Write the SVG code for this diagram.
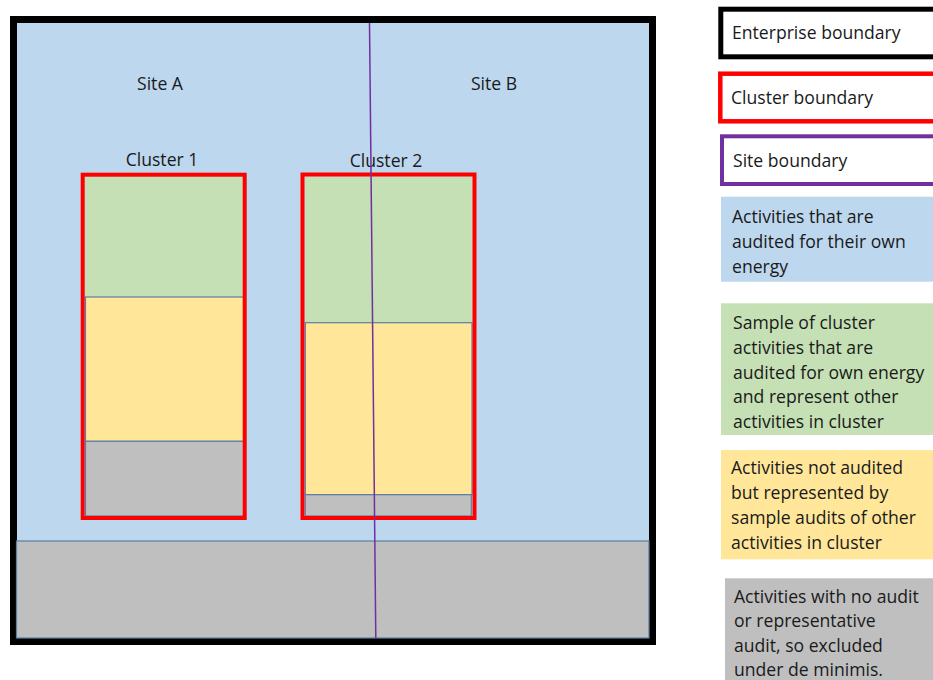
<svg xmlns="http://www.w3.org/2000/svg" width="933" height="680" viewBox="0 0 933 680">
<style>
text{font-family:"Open Sans","Noto Sans",sans-serif;font-size:17.6px;fill:#1a1a1a}
.act{stroke:#5b7fa0;stroke-width:1.2}
.blue{fill:#bdd7ee}.green{fill:#c5e0b4}.yellow{fill:#ffe699}.gray{fill:#bfbfbf}
.cl{fill:none;stroke:#ff0000;stroke-width:4}
</style>
<rect width="933" height="680" fill="#ffffff"/>
<g id="enterprise">
<rect x="13.5" y="19.5" width="639" height="622" class="blue" stroke="#000" stroke-width="7"/>
<rect x="16.5" y="541" width="632.5" height="97" class="gray act"/>
<text x="160" y="90" text-anchor="middle">Site A</text>
<text x="494" y="90" text-anchor="middle">Site B</text>
</g>
<g id="cluster1">
<rect x="84.7" y="176.7" width="158" height="120" class="green"/>
<rect x="85.5" y="297" width="158.5" height="144.3" class="yellow act"/>
<rect x="85.5" y="441.3" width="158.5" height="74.7" class="gray act"/>
<rect x="82.7" y="174.7" width="162" height="343.3" class="cl"/>
<text x="162" y="166" text-anchor="middle">Cluster 1</text>
</g>
<g id="cluster2">
<rect x="304.5" y="176.5" width="168" height="146" class="green"/>
<rect x="305.3" y="322.7" width="166.7" height="172" class="yellow act"/>
<rect x="305.3" y="494.7" width="166" height="21.3" class="gray act"/>
<rect x="302.5" y="174.5" width="172" height="343.5" class="cl"/>
<text x="386" y="167" text-anchor="middle">Cluster 2</text>
</g>
<g id="connectors">
<line x1="369.5" y1="23" x2="375.8" y2="638" stroke="#7030a0" stroke-width="1.5"/>
</g>
<g id="legend-enterprise">
<rect x="720.8" y="9.2" width="220" height="47.6" fill="#fff" stroke="#000" stroke-width="5"/>
<text x="732" y="39">Enterprise boundary</text>
</g>
<g id="legend-cluster">
<rect x="720.3" y="73.7" width="220" height="47.6" fill="#fff" stroke="#ff0000" stroke-width="4.5"/>
<text x="731" y="104">Cluster boundary</text>
</g>
<g id="legend-site">
<rect x="722" y="136.3" width="220" height="47.7" fill="#fff" stroke="#7030a0" stroke-width="4"/>
<text x="733" y="167">Site boundary</text>
</g>
<g id="legend-blue">
<rect x="721" y="196.7" width="212" height="85" class="blue"/>
<text x="732" y="223">Activities that are</text>
<text x="732" y="248">audited for their own</text>
<text x="732" y="273">energy</text>
</g>
<g id="legend-green">
<rect x="721" y="303.3" width="212" height="131.7" class="green"/>
<text x="733" y="329">Sample of cluster</text>
<text x="733" y="354">activities that are</text>
<text x="733" y="379">audited for own energy</text>
<text x="733" y="403">and represent other</text>
<text x="733" y="428">activities in cluster</text>
</g>
<g id="legend-yellow">
<rect x="721" y="450" width="212" height="109.3" class="yellow"/>
<text x="731" y="474">Activities not audited</text>
<text x="731" y="499">but represented by</text>
<text x="731" y="524">sample audits of other</text>
<text x="731" y="549">activities in cluster</text>
</g>
<g id="legend-gray">
<rect x="725" y="578.3" width="208" height="101.7" class="gray"/>
<text x="734" y="603">Activities with no audit</text>
<text x="734" y="627">or representative</text>
<text x="734" y="652">audit, so excluded</text>
<text x="734" y="676">under de minimis.</text>
</g>
</svg>
